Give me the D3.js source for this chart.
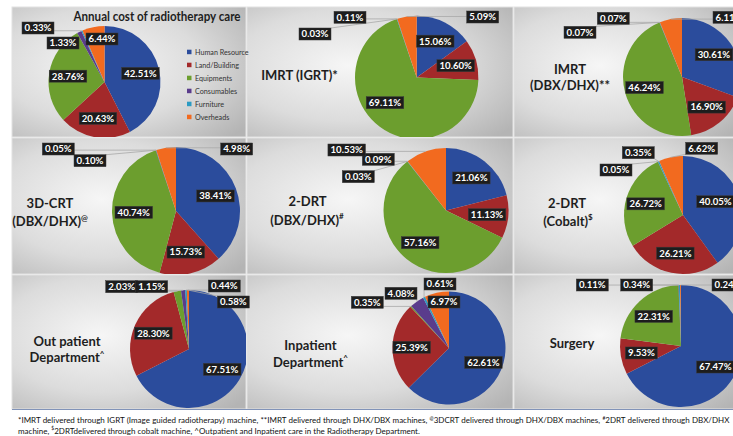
<!DOCTYPE html>
<html>
<head>
<meta charset="utf-8">
<script src="https://cdn.jsdelivr.net/npm/d3@7/dist/d3.min.js"></script>
<style>
  body { margin: 0; background: #fff; }
  svg { display: block; font-family: Lato, "Open Sans", sans-serif; }
</style>
</head>
<body>
<svg width="733" height="436"></svg>
<script>
// cost heads, in slice order (clockwise from 12 o'clock)
var categories = ["Human Resource", "Land/Building", "Equipments", "Consumables", "Furniture", "Overheads"];
var colors = ["#2b4c9c", "#a3292a", "#6c9e2e", "#5a3c8c", "#2b9bc3", "#f26a1f"];

// percentage share of each cost head
var annualCost = [42.51, 20.63, 28.76, 1.33, 0.33, 6.44];
var imrtIgrt   = [15.06, 10.60, 69.11, 0.03, 0.11, 5.09];
var imrtDbx    = [30.61, 16.90, 46.24, 0.07, 0.07, 6.11];
var crt3d      = [38.41, 15.73, 40.74, 0.10, 0.05, 4.98];
var drt2Dbx    = [21.06, 11.13, 57.16, 0.03, 0.09, 10.53];
var drt2Cobalt = [40.05, 26.21, 26.72, 0.05, 0.35, 6.62];
var outPatient = [67.51, 28.30, 2.03, 1.15, 0.44, 0.58];
var inPatient  = [62.61, 25.39, 0.35, 4.08, 0.61, 6.97];
var surgery    = [67.47, 9.53, 22.31, 0.11, 0.34, 0.24];

var footnote = [
  [["*IMRT delivered through IGRT (Image guided radiotherapy) machine, **IMRT delivered through DHX/DBX machines, "], ["@", 1], ["3DCRT delivered through DHX/DBX machines, "], ["#", 1], ["2DRT delivered through DBX/DHX"]],
  [["machine, "], ["$", 1], ["2DRTdelivered through cobalt machine, ^Outpatient and Inpatient care in the Radiotherapy Department."]]
];

// layout of the 3x3 grid (panel box, pie centre/radius, side titles, callout labels)
var panels = [
  { data: annualCost, box: [12, 7, 246, 137], c: [104.5, 82], r: 56,
    title: [],
    callouts: { 3: [-41.5, -39, false], 4: [-66.5, -54, true], 5: [-2.5, -43, false] } },
  { data: imrtIgrt, box: [247, 7, 513, 137], c: [416.7, 77.4], r: 61.7,
    title: [[["IMRT (IGRT)*"]], 299.5, 80],
    callouts: { 2: [-31.7, 25.3, false], 3: [-101.7, -43.4, true], 4: [-66.7, -60.1, true], 5: [66, -60.4, true] } },
  { data: imrtDbx, box: [514, 7, 740, 137], c: [682, 77], r: 59,
    title: [[["IMRT"]], 570, 74, [["(DBX/DHX)**"]], 570, 90],
    callouts: { 3: [-102, -44.7, true], 4: [-68.7, -58.7, true], 5: [47, -59.7, true] } },
  { data: crt3d, box: [12, 138, 246, 274], c: [176, 211], r: 64,
    title: [[["3D-CRT"]], 50, 207.5, [["(DBX/DHX)"], ["@", 1]], 50, 226],
    callouts: { 3: [-86, -50.3, true], 4: [-117.7, -62, true], 5: [60.7, -62, true] } },
  { data: drt2Dbx, box: [247, 138, 513, 274], c: [446, 210.5], r: 62.5,
    title: [[["2-DRT"]], 307.5, 206, [["(DBX/DHX)"], ["#", 1]], 307, 224.5],
    callouts: { 3: [-87.7, -33.8, true], 4: [-67.7, -51.2, true], 5: [-99.3, -60.5, true] } },
  { data: drt2Cobalt, box: [514, 138, 740, 274], c: [683, 215], r: 59,
    title: [[["2-DRT"]], 567, 208, [["(Cobalt)"], ["$", 1]], 568, 225.5],
    callouts: { 0: [32.5, -13.3, false], 3: [-67, -45, true], 4: [-44.7, -62.3, true], 5: [18.7, -66.7, true] } },
  { data: outPatient, box: [12, 275, 246, 409], c: [189, 349], r: 59,
    title: [[["Out patient"]], 67, 345.5, [["Department"], ["^", 1]], 67, 362],
    callouts: { 2: [-67.3, -62.3, true], 3: [-37.3, -62.3, true], 4: [35.3, -63, true], 5: [44.3, -47, true] } },
  { data: inPatient, box: [247, 275, 513, 409], c: [449, 348], r: 56.5,
    title: [[["Inpatient"]], 310.5, 350, [["Department"], ["^", 1]], 310.5, 366.5],
    callouts: { 2: [-81.7, -45.7, true], 3: [-48, -54.7, true], 4: [-9, -64, true], 5: [-5, -46, false] } },
  { data: surgery, box: [514, 275, 740, 409], c: [681, 346], r: 61,
    title: [[["Surgery"]], 572, 348],
    callouts: { 3: [-88.7, -61, true], 4: [-44.3, -61, true], 5: [47, -61, true] } }
];

var svg = d3.select("svg");
var defs = svg.append("defs");

var grad = defs.append("radialGradient").attr("id", "panelFill")
  .attr("cx", "38%").attr("cy", "45%").attr("r", "78%");
grad.append("stop").attr("offset", "0%").attr("stop-color", "#f6f6f6");
grad.append("stop").attr("offset", "55%").attr("stop-color", "#dcdcdc");
grad.append("stop").attr("offset", "100%").attr("stop-color", "#b4b4b4");

var pie = d3.pie().sort(null).value(function(d) { return d; });
var fmt = function(v) { return d3.format(".2f")(v) + "%"; };

// write a line made of [text, isSuper] parts into a text element
function addParts(sel, parts, size) {
  var shift = 0;
  parts.forEach(function(p) {
    var ts = sel.append("tspan").text(p[0]);
    if (p[1]) {
      ts.attr("dy", -size * 0.4).attr("font-size", size * 0.62);
      shift = size * 0.4;
    } else if (shift) {
      ts.attr("dy", shift);
      shift = 0;
    }
  });
}

var panelLayer = svg.append("g");
var labelLayer = svg.append("g");

panels.forEach(function(p, k) {
  var b = p.box;
  var g = panelLayer.append("g");

  defs.append("clipPath").attr("id", "clip" + k)
    .append("rect").attr("x", b[0]).attr("y", b[1])
    .attr("width", b[2] - b[0]).attr("height", b[3] - b[1]);

  g.append("rect")
    .attr("x", b[0]).attr("y", b[1])
    .attr("width", b[2] - b[0]).attr("height", b[3] - b[1])
    .attr("fill", "url(#panelFill)")
    .attr("stroke", "#e2e2e2").attr("stroke-width", 1);

  var arcs = pie(p.data);
  var arc = d3.arc().innerRadius(0).outerRadius(p.r);
  var labelArc = d3.arc().innerRadius(p.r * 0.66).outerRadius(p.r * 0.66);

  g.append("g").attr("clip-path", "url(#clip" + k + ")")
    .append("g").attr("transform", "translate(" + p.c[0] + "," + p.c[1] + ")")
    .selectAll("path").data(arcs).join("path")
    .attr("d", arc)
    .attr("fill", function(d, i) { return colors[i]; });

  // side titles
  for (var t = 0; t < p.title.length; t += 3) {
    var tt = g.append("text")
      .attr("x", p.title[t + 1]).attr("y", p.title[t + 2])
      .attr("text-anchor", "middle")
      .attr("font-size", 13).attr("font-weight", "bold").attr("fill", "#1e1e1e");
    addParts(tt, p.title[t], 13);
  }

  // data labels (dark boxes)
  var lg = labelLayer.append("g").attr("transform", "translate(" + p.c[0] + "," + p.c[1] + ")");
  arcs.forEach(function(d, i) {
    var co = p.callouts[i];
    var pos = co ? [co[0], co[1]] : labelArc.centroid(d);
    var item = lg.append("g");
    var txt = item.append("text")
      .attr("x", pos[0]).attr("y", pos[1])
      .attr("dy", "0.35em")
      .attr("text-anchor", "middle")
      .attr("font-size", 9.6).attr("font-weight", "bold")
      .attr("fill", "#fff")
      .text(fmt(d.value));
    var bb = txt.node().getBBox();
    var w = bb.width + 5, h = 12;
    var bx = pos[0] - w / 2, by = pos[1] - h / 2;
    if (co && co[2]) {
      var a = (d.startAngle + d.endAngle) / 2;
      var ax = Math.sin(a) * p.r, ay = -Math.cos(a) * p.r;
      var ex = Math.max(bx, Math.min(bx + w, ax));
      var ey = Math.max(by, Math.min(by + h, ay));
      item.insert("line", "text")
        .attr("x1", ex).attr("y1", ey).attr("x2", ax).attr("y2", ay)
        .attr("stroke", "#a8a8a8").attr("stroke-width", 0.8);
    }
    item.insert("rect", "text")
      .attr("x", bx).attr("y", by).attr("width", w).attr("height", h)
      .attr("fill", "#1d1d1d")
      .attr("stroke", "#3a3a3a").attr("stroke-width", 0.5);
  });
});

// first panel: title and legend
panelLayer.append("text")
  .attr("x", 157).attr("y", 21)
  .attr("text-anchor", "middle")
  .attr("font-size", 12.5).attr("font-weight", "bold").attr("fill", "#1e1e1e")
  .attr("textLength", 167).attr("lengthAdjust", "spacingAndGlyphs")
  .text("Annual cost of radiotherapy care");

var legend = panelLayer.append("g").attr("transform", "translate(187,52)");
var ly = d3.scalePoint().domain(categories).range([0, 65]);
var li = legend.selectAll("g").data(categories).join("g")
  .attr("transform", function(d) { return "translate(0," + ly(d) + ")"; });
li.append("rect").attr("x", 0).attr("y", -2.3).attr("width", 4.5).attr("height", 4.5)
  .attr("fill", function(d, i) { return colors[i]; });
li.append("text").attr("x", 8).attr("dy", "0.35em")
  .attr("font-size", 7.2).attr("fill", "#333")
  .text(function(d) { return d; });

// bottom rule and footnote
svg.append("line").attr("x1", 12).attr("x2", 733).attr("y1", 409.5).attr("y2", 409.5)
  .attr("stroke", "#8193b8").attr("stroke-width", 1);

footnote.forEach(function(line, j) {
  var ft = svg.append("text")
    .attr("x", 18).attr("y", 423 + j * 10.5)
    .attr("font-size", 8).attr("fill", "#111");
  addParts(ft, line, 8);
  // stretch the first line across the page like the justified original
  if (j === 0) {
    var natural = ft.node().getComputedTextLength();
    ft.attr("word-spacing", (712 - natural) / 24);
  }
});
</script>
</body>
</html>
